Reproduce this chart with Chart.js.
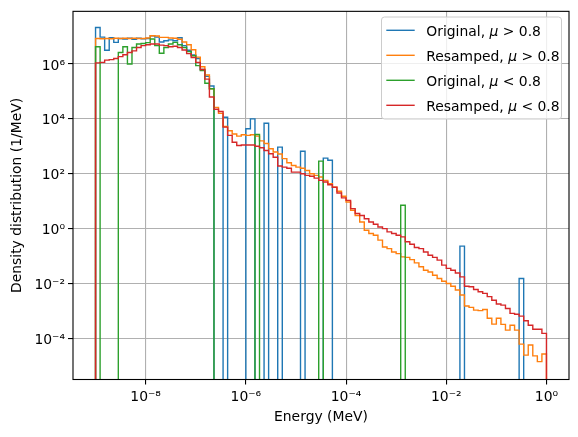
<!DOCTYPE html>
<html>
<head>
<meta charset="utf-8">
<title>Energy density histograms</title>
<script src="https://cdn.jsdelivr.net/npm/chart.js@4.4.1/dist/chart.umd.min.js"></script>
<style>
  html, body { margin: 0; padding: 0; background: #ffffff; }
  #wrap { width: 578px; height: 437px; }
</style>
</head>
<body>
<div id="wrap"><canvas id="chart" width="578" height="437"></canvas></div>
<script>
// 99 log-spaced bins between 1e-9 and 1 MeV
const E_MIN = 1e-9;
const E_MAX = 1;
const N_BINS = 99;

// log10 of density (1/MeV) per bin; null = empty bin
const origHiLog = [
  7.33, 6.98, 6.50, 6.96, 6.79, 6.93, 6.91, 6.94, 6.90, 6.94,
  6.92, 6.93, 7.03, 6.98, 6.80, 6.85, 6.88, 6.85, 6.96, 6.67,
  6.50, 6.33, 6.20, 5.80, 5.55, 5.20, null, null, 4.06, null,
  null, null, null, 3.64, 4.00, null, null, 3.84, null, null,
  2.97, null, null, null, null, 2.82, null, null, null, null,
  2.57, 2.49, null, null, null, null, null, null, null, null,
  null, null, null, null, null, null, null, null, null, null,
  null, null, null, null, null, null, null, null, null, null,
  -0.64, null, null, null, null, null, null, null, null, null,
  null, null, null, -1.82, null, null, null, null, null
];

const resHiLog = [
  6.93, 6.92, 6.93, 6.92, 6.94, 6.93, 6.94, 6.93, 6.94, 6.93,
  6.93, 6.95, 7.03, 7.02, 6.97, 6.97, 6.95, 6.94, 6.90, 6.80,
  6.70, 6.52, 6.25, 5.90, 5.60, 5.10, 4.42, 4.20, 3.72, 3.57,
  3.45, 3.37, 3.42, 3.40, 3.42, 3.37, 3.20, 3.10, 2.91, 2.79,
  2.72, 2.55, 2.40, 2.30, 2.24, 2.20, 2.12, 2.00, 1.94, 1.88,
  1.76, 1.64, 1.51, 1.36, 1.18, 0.97, 0.67, 0.48, 0.24, -0.06,
  -0.18, -0.24, -0.42, -0.67, -0.73, -0.85, -0.91, -1.03, -1.05, -1.13,
  -1.25, -1.39, -1.52, -1.58, -1.70, -1.82, -1.92, -2.00, -2.10, -2.24,
  -2.42, -2.82, -2.87, -2.97, -2.99, -2.95, -3.27, -3.48, -3.27, -3.49,
  -3.70, -3.52, -3.70, -4.21, -4.61, -4.24, -4.64, -4.85, -4.57
];

const origLoLog = [
  6.63, null, null, null, null, 6.42, 6.63, 6.00, 6.60, 6.73,
  6.75, 6.78, 6.91, 6.67, 6.39, 6.60, 6.73, 6.79, 6.70, 6.60,
  6.45, 6.30, 5.94, 5.76, 5.30, 5.10, null, null, null, null,
  null, null, null, null, null, 3.43, null, null, null, null,
  null, null, null, null, null, null, null, null, null, 2.46,
  null, null, null, null, null, null, null, null, null, null,
  null, null, null, null, null, null, null, 0.85, null, null,
  null, null, null, null, null, null, null, null, null, null,
  null, null, null, null, null, null, null, null, null, null,
  null, null, null, null, null, null, null, null, null
];

const resLoLog = [
  6.04, 6.06, 6.14, 6.16, 6.20, 6.27, 6.34, 6.42, 6.48, 6.60,
  6.67, 6.70, 6.73, 6.73, 6.69, 6.67, 6.63, 6.65, 6.60, 6.51,
  6.38, 6.24, 6.06, 5.80, 5.45, 4.80, 4.35, 4.27, 3.70, 3.40,
  3.15, 3.03, 3.05, 3.05, 3.05, 3.00, 2.95, 2.85, 2.73, 2.60,
  2.28, 2.24, 2.20, 2.06, 2.06, 2.00, 1.94, 1.91, 1.84, 1.76,
  1.70, 1.60, 1.51, 1.30, 1.12, 1.03, 0.73, 0.55, 0.48, 0.36,
  0.24, 0.16, 0.06, 0.00, -0.12, -0.18, -0.24, -0.30, -0.48, -0.57,
  -0.69, -0.73, -0.85, -0.97, -1.05, -1.15, -1.33, -1.45, -1.52, -1.62,
  -1.76, -2.10, -2.12, -2.22, -2.30, -2.36, -2.48, -2.61, -2.75, -2.79,
  -2.91, -3.09, -3.12, -3.19, -3.36, -3.52, -3.67, -3.67, -3.82
];

const seriesLabels = [
  "Original, \u03bc > 0.8",
  "Resamped, \u03bc > 0.8",
  "Original, \u03bc < 0.8",
  "Resamped, \u03bc < 0.8"
];
const seriesColors = ["#1f77b4", "#ff7f0e", "#2ca02c", "#d62728"];

const xTicks = [1e-8, 1e-6, 1e-4, 1e-2, 1];
const yTicks = [1e-4, 1e-2, 1, 1e2, 1e4, 1e6];

// bin edges, log-spaced
const binEdges = [];
for (let i = 0; i <= N_BINS; i++) {
  const lo = Math.log10(E_MIN), hi = Math.log10(E_MAX);
  binEdges.push(Math.pow(10, lo + (hi - lo) * i / N_BINS));
}

// empty bins drop below the axis and get clipped, like matplotlib's step outline
const EMPTY = 1e-30;

function stepPoints(logValues) {
  const pts = [{ x: binEdges[0], y: EMPTY }];
  logValues.forEach((lv, i) => {
    pts.push({ x: binEdges[i], y: lv === null ? EMPTY : Math.pow(10, lv) });
  });
  pts.push({ x: binEdges[N_BINS], y: EMPTY });
  return pts;
}

function powLabel(v) {
  const sup = { "-": "\u207b", "0": "\u2070", "1": "\u00b9", "2": "\u00b2", "3": "\u00b3",
    "4": "\u2074", "5": "\u2075", "6": "\u2076", "7": "\u2077", "8": "\u2078", "9": "\u2079" };
  const e = String(Math.round(Math.log10(v)));
  return "10" + e.split("").map(c => sup[c]).join("");
}

const FONT = "'DejaVu Sans', 'Liberation Sans', sans-serif";
Chart.defaults.font.family = FONT;
Chart.defaults.font.size = 13.9;
Chart.defaults.color = "#000000";

// frame on top of the lines, then a matplotlib-like legend box
const framePlugin = {
  id: "frameAndLegend",
  afterDatasetsDraw(chart) {
    const { ctx, chartArea: a } = chart;
    ctx.save();
    ctx.strokeStyle = "#000000";
    ctx.lineWidth = 1.1;
    ctx.strokeRect(a.left, a.top, a.right - a.left, a.bottom - a.top);

    // legend
    const bx = 381.5, by = 17, bw = 180, bh = 102, r = 3;
    ctx.beginPath();
    ctx.moveTo(bx + r, by);
    ctx.arcTo(bx + bw, by, bx + bw, by + bh, r);
    ctx.arcTo(bx + bw, by + bh, bx, by + bh, r);
    ctx.arcTo(bx, by + bh, bx, by, r);
    ctx.arcTo(bx, by, bx + bw, by, r);
    ctx.closePath();
    ctx.fillStyle = "rgba(255,255,255,0.8)";
    ctx.fill();
    ctx.strokeStyle = "#cccccc";
    ctx.lineWidth = 1;
    ctx.stroke();

    chart.data.datasets.forEach((ds, i) => {
      const y = 30.3 + 25 * i;
      ctx.strokeStyle = ds.borderColor;
      ctx.lineWidth = 1.4;
      ctx.beginPath();
      ctx.moveTo(386.3, y);
      ctx.lineTo(414.7, y);
      ctx.stroke();

      const [name, rest] = ds.label.split("\u03bc");
      let x = 426.3;
      const base = y + 5.5;
      ctx.fillStyle = "#000000";
      ctx.textBaseline = "alphabetic";
      ctx.textAlign = "left";
      ctx.font = "13.9px " + FONT;
      ctx.fillText(name, x, base);
      x += ctx.measureText(name).width;
      ctx.font = "italic 13.9px " + FONT;
      ctx.fillText("\u03bc", x, base);
      x += ctx.measureText("\u03bc").width;
      ctx.font = "13.9px " + FONT;
      ctx.fillText(rest, x, base);
    });
    ctx.restore();
  }
};

const datasets = [origHiLog, resHiLog, origLoLog, resLoLog].map((vals, i) => ({
  label: seriesLabels[i],
  data: stepPoints(vals),
  borderColor: seriesColors[i],
  backgroundColor: seriesColors[i],
  borderWidth: 1.4,
  stepped: "before",
  pointRadius: 0,
  fill: false,
  order: 3 - i
}));

new Chart(document.getElementById("chart"), {
  type: "line",
  data: { datasets: datasets },
  options: {
    responsive: false,
    animation: false,
    devicePixelRatio: 1,
    layout: { padding: { left: 0, top: 10.5, right: 9, bottom: 0 } },
    plugins: {
      legend: { display: false },
      tooltip: { enabled: false }
    },
    scales: {
      x: {
        type: "logarithmic",
        min: Math.pow(10, -9.45),
        max: Math.pow(10, 0.45),
        afterBuildTicks(scale) { scale.ticks = xTicks.map(v => ({ value: v })); },
        afterFit(scale) { scale.height = 57.5; },
        ticks: { callback: v => powLabel(v), autoSkip: false, maxRotation: 0, padding: 5 },
        grid: { color: "#b0b0b0", lineWidth: 1.1, drawTicks: true, tickLength: 5, tickColor: "#000000", tickWidth: 1.1 },
        border: { display: false },
        title: { display: true, text: "Energy (MeV)", padding: { top: 0, bottom: 11 } }
      },
      y: {
        type: "logarithmic",
        min: Math.pow(10, -5.5),
        max: Math.pow(10, 7.92),
        afterBuildTicks(scale) { scale.ticks = yTicks.map(v => ({ value: v })); },
        afterFit(scale) { scale.width = 73; },
        ticks: { callback: v => powLabel(v), autoSkip: false, padding: 3, labelOffset: 2 },
        grid: { color: "#b0b0b0", lineWidth: 1.1, drawTicks: true, tickLength: 5, tickColor: "#000000", tickWidth: 1.1 },
        border: { display: false },
        title: { display: true, text: "Density distribution (1/MeV)", padding: { top: 9, bottom: 0 } }
      }
    }
  },
  plugins: [framePlugin]
});
</script>
</body>
</html>
